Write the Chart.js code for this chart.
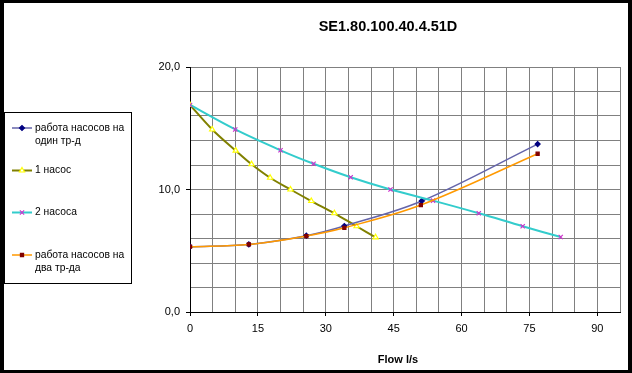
<!DOCTYPE html>
<html>
<head>
<meta charset="utf-8">
<script src="https://cdn.jsdelivr.net/npm/chart.js@4/dist/chart.umd.min.js"></script>
<style>
  html, body { margin: 0; padding: 0; background: #fff; }
  canvas { display: block; }
</style>
</head>
<body>
<canvas id="chart-pumps" width="632" height="373"></canvas>
<script>
const chartTitle = "SE1.80.100.40.4.51D";
const axisTitle = "Flow l/s";

// работа насосов на один тр-д
const flowOneLine = [0, 13.0, 25.7, 34.1, 51.2, 76.8];
const headOneLine = [5.33, 5.52, 6.23, 7.02, 9.06, 13.71];

// 1 насос
const flowOnePump = [0, 4.9, 10.1, 13.6, 17.7, 22.2, 26.8, 31.9, 36.8, 41.0];
const headOnePump = [16.9, 14.9, 13.17, 12.06, 10.96, 10.0, 9.06, 8.06, 7.0, 6.1];

// 2 насоса
const flowTwoPumps = [0, 10.0, 20.0, 27.3, 35.5, 44.3, 53.7, 63.8, 73.5, 81.9];
const headTwoPumps = [16.9, 14.9, 13.2, 12.1, 11.0, 10.0, 9.09, 8.06, 7.0, 6.12];

// работа насосов на два тр-да
const flowTwoLines = [0, 13.0, 25.7, 34.1, 51.0, 76.8];
const headTwoLines = [5.33, 5.52, 6.2, 6.87, 8.73, 12.92];

const legendLabels = [
  ["работа насосов на", "один тр-д"],
  ["1 насос"],
  ["2 насоса"],
  ["работа насосов на", "два тр-да"],
];

const FONT = "'Liberation Sans', Arial, sans-serif";

const toPoints = (xs, ys) => xs.map((x, i) => ({ x: x, y: ys[i] }));

const drawMarker = (ctx, ds, x, y) => {
  const opts = {
    pointStyle: ds.pointStyle,
    radius: ds.pointRadius,
    borderWidth: ds.pointBorderWidth,
    rotation: 0,
  };
  ctx.save();
  ctx.fillStyle = ds.pointBackgroundColor;
  ctx.strokeStyle = ds.pointBorderColor;
  ctx.lineWidth = ds.pointBorderWidth;
  Chart.helpers.drawPoint(ctx, opts, x, y);
  ctx.restore();
};

const decorPlugin = {
  id: "decor",
  afterDraw: (chart) => {
    const ctx = chart.ctx;
    ctx.save();

    // title and axis title
    ctx.fillStyle = "#000";
    ctx.textAlign = "center";
    ctx.textBaseline = "middle";
    ctx.font = "bold 14.5px " + FONT;
    ctx.fillText(chartTitle, 388, 27);
    ctx.font = "bold 11px " + FONT;
    ctx.fillText(axisTitle, 398, 360);

    // legend box
    ctx.strokeStyle = "#000";
    ctx.lineWidth = 1;
    ctx.strokeRect(4.5, 112.5, 127, 171);

    const rowY = [128, 170.5, 212.5, 255];
    ctx.textAlign = "left";
    ctx.font = "10.3px " + FONT;
    chart.data.datasets.forEach((ds, i) => {
      const y = rowY[i];
      ctx.save();
      ctx.strokeStyle = ds.borderColor;
      ctx.lineWidth = ds.borderWidth;
      ctx.beginPath();
      ctx.moveTo(12, y);
      ctx.lineTo(32, y);
      ctx.stroke();
      ctx.restore();
      drawMarker(ctx, ds, 22, y);
      ctx.fillStyle = "#000";
      legendLabels[i].forEach((line, k) => {
        ctx.fillText(line, 35, y + k * 13.5);
      });
    });

    // outer frame
    ctx.fillStyle = "#000";
    ctx.fillRect(0, 0, 632, 3);
    ctx.fillRect(0, 370, 632, 3);
    ctx.fillRect(0, 0, 4, 373);
    ctx.fillRect(628, 0, 4, 373);
    ctx.restore();
  },
};

const whiteBg = {
  id: "whiteBg",
  beforeDraw: (chart) => {
    const ctx = chart.ctx;
    ctx.save();
    ctx.fillStyle = "#fff";
    ctx.fillRect(0, 0, chart.width, chart.height);
    ctx.restore();
  },
};

const makeDataset = (label, data, line, lineWidth, style, radius, fill, stroke, order) => ({
  label: label,
  data: data,
  showLine: true,
  borderColor: line,
  borderWidth: lineWidth,
  tension: 0.35,
  pointStyle: style,
  pointRadius: radius,
  pointHoverRadius: radius,
  pointBackgroundColor: fill,
  pointBorderColor: stroke,
  pointBorderWidth: 1.2,
  order: order,
});

const datasets = [
  makeDataset(legendLabels[0].join(" "), toPoints(flowOneLine, headOneLine),
    "#6464aa", 1.5, "rectRot", 2.5, "#000080", "#000080", 2),
  makeDataset(legendLabels[1].join(" "), toPoints(flowOnePump, headOnePump),
    "#808000", 2, "triangle", 3, "#ffffff", "#ffff00", 3),
  makeDataset(legendLabels[2].join(" "), toPoints(flowTwoPumps, headTwoPumps),
    "#33cccc", 2, "crossRot", 3, "#993399", "#cc33cc", 1),
  makeDataset(legendLabels[3].join(" "), toPoints(flowTwoLines, headTwoLines),
    "#ff9900", 1.5, "rect", 2.2, "#800000", "#800000", 0),
];

new Chart(document.querySelector("#chart-pumps"), {
  type: "scatter",
  data: { datasets: datasets },
  options: {
    responsive: false,
    animation: false,
    layout: { padding: { left: 140, top: 67, right: 12, bottom: 31 } },
    plugins: {
      legend: { display: false },
      title: { display: false },
      tooltip: { enabled: false },
    },
    scales: {
      x: {
        type: "linear",
        min: 0,
        max: 95,
        afterFit: (scale) => { scale.height = 30; },
        ticks: {
          stepSize: 5,
          autoSkip: false,
          maxRotation: 0,
          padding: 6,
          color: "#000",
          font: { family: FONT, size: 11 },
          callback: (v) => (v % 15 === 0 ? String(v) : ""),
        },
        grid: {
          color: "#808080",
          lineWidth: 1,
          tickLength: 4,
          tickColor: (c) => (c.tick && c.tick.value % 15 === 0 ? "#000" : "rgba(0,0,0,0)"),
        },
        border: { color: "#000", width: 1 },
      },
      y: {
        type: "linear",
        min: 0,
        max: 20,
        afterFit: (scale) => { scale.width = 50; },
        ticks: {
          stepSize: 2,
          autoSkip: false,
          padding: 6,
          color: "#000",
          font: { family: FONT, size: 11 },
          callback: (v) => (v % 10 === 0 ? v.toFixed(1).replace(".", ",") : ""),
        },
        grid: {
          color: "#808080",
          lineWidth: 1,
          tickLength: 4,
          tickColor: (c) => (c.tick && c.tick.value % 10 === 0 ? "#000" : "rgba(0,0,0,0)"),
        },
        border: { color: "#000", width: 1 },
      },
    },
  },
  plugins: [whiteBg, decorPlugin],
});
</script>
</body>
</html>
